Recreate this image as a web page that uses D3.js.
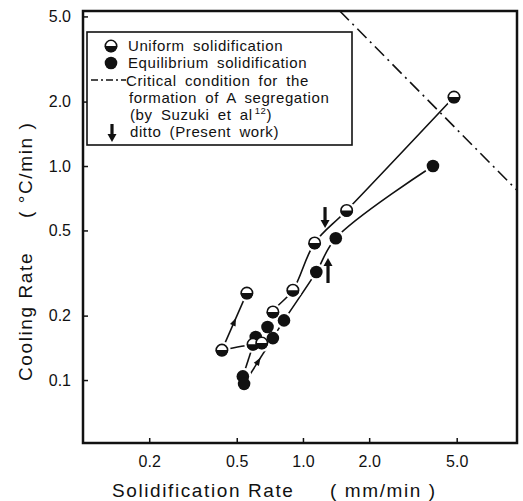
<!DOCTYPE html>
<html>
<head>
<meta charset="utf-8">
<script src="https://cdn.jsdelivr.net/npm/d3@7"></script>
<style>
  body { margin: 0; background: #fff; }
  svg text { font-family: "Liberation Sans", Arial, sans-serif; fill: #111; }
</style>
</head>
<body>
<div id="chart"></div>
<script>
// tick values / labels
var xTicks = [0.2, 0.5, 1, 2, 5];
var xTickLabels = ["0.2", "0.5", "1.0", "2.0", "5.0"];
var yTicks = [0.1, 0.2, 0.5, 1, 2, 5];
var yTickLabels = ["0.1", "0.2", "0.5", "1.0", "2.0", "5.0"];

// uniform solidification points [solidification rate, cooling rate]
var uniformPts = [[4.86, 2.1], [1.58, 0.62], [1.13, 0.437], [0.90, 0.263], [0.73, 0.208],
                  [0.556, 0.255], [0.428, 0.138], [0.593, 0.147], [0.65, 0.149]];
// equilibrium solidification points
var equilibPts = [[3.9, 1.0], [1.41, 0.46], [1.15, 0.32], [0.82, 0.19], [0.69, 0.177],
                  [0.73, 0.157], [0.61, 0.159], [0.533, 0.104], [0.54, 0.096]];

// connecting curves
var uniformCurve = [[0.428, 0.138], [0.593, 0.147], [0.65, 0.149], [0.73, 0.208], [0.90, 0.263],
                    [1.13, 0.437], [1.58, 0.62], [4.86, 2.1]];
var uniformArrow = [[0.428, 0.138], [0.556, 0.255]];
var equilibCurve = [[0.73, 0.157], [0.82, 0.19], [1.15, 0.32], [1.41, 0.46], [3.9, 1.0]];
var equilibArrow = [[0.54, 0.096], [0.73, 0.157]];
var equilibStart = [[0.533, 0.104], [0.61, 0.159]];

// critical condition (Suzuki et al)
var criticalLine = [[1.47, 5.3], [9.4, 0.77]];

// "ditto (present work)" arrows: x, from, to
var dittoArrows = [[1.26, 0.643, 0.513], [1.30, 0.284, 0.372]];

var W = 523, H = 501;
var pLeft = 83, pRight = 517, pTop = 11, pBottom = 443;

var svg = d3.select("#chart").append("svg")
    .attr("width", W).attr("height", H);

var x = d3.scaleLog().domain([0.1, 9.4]).range([pLeft, pRight]);
var y = d3.scaleLog().domain([0.0508, 5.3]).range([pBottom, pTop]);

svg.append("clipPath").attr("id", "clip")
  .append("rect").attr("x", pLeft).attr("y", pTop)
  .attr("width", pRight - pLeft).attr("height", pBottom - pTop);

/*** AXES */
var xAxis = d3.axisBottom(x).tickValues(xTicks)
    .tickFormat(function(d, i) { return xTickLabels[i]; })
    .tickSize(-5).tickPadding(13);
var gx = svg.append("g").attr("transform", "translate(0," + pBottom + ")").call(xAxis);
gx.select(".domain").remove();
gx.selectAll("text").style("font-size", "16px").attr("fill", "#111");
gx.selectAll("line").attr("stroke", "#111").attr("stroke-width", 1.5);

var yAxis = d3.axisLeft(y).tickValues(yTicks)
    .tickFormat(function(d, i) { return yTickLabels[i]; })
    .tickSize(-5).tickPadding(12);
var gy = svg.append("g").attr("transform", "translate(" + pLeft + ",0)").call(yAxis);
gy.select(".domain").remove();
gy.selectAll("text").style("font-size", "16px").attr("fill", "#111");
gy.selectAll("line").attr("stroke", "#111").attr("stroke-width", 1.5);

svg.append("rect")
    .attr("x", pLeft).attr("y", pTop)
    .attr("width", pRight - pLeft).attr("height", pBottom - pTop)
    .attr("fill", "none").attr("stroke", "#111").attr("stroke-width", 2.5);

// axis titles
var titleStyle = function(t) {
    return t.style("font-size", "19px").style("letter-spacing", "1.6px").style("white-space", "pre");
};
titleStyle(svg.append("text").attr("x", 112).attr("y", 497)).text("Solidification Rate");
titleStyle(svg.append("text").attr("x", 330).attr("y", 497)).text("( mm/min )");
titleStyle(svg.append("text").attr("transform", "translate(32,381) rotate(-90)")).text("Cooling Rate");
titleStyle(svg.append("text").attr("transform", "translate(32,218) rotate(-90)")).text("( °C/min )");

/*** PLOT AREA */
var plot = svg.append("g").attr("clip-path", "url(#clip)");

var line = d3.line().x(function(d) { return x(d[0]); }).y(function(d) { return y(d[1]); });
var smooth = d3.line().x(function(d) { return x(d[0]); }).y(function(d) { return y(d[1]); })
    .curve(d3.curveCatmullRom.alpha(0.5));

plot.append("path").attr("d", line(criticalLine))
    .attr("fill", "none").attr("stroke", "#111").attr("stroke-width", 1.6)
    .attr("stroke-dasharray", "13,5,2,5");

[uniformCurve, equilibCurve].forEach(function(c) {
    plot.append("path").attr("d", smooth(c))
        .attr("fill", "none").attr("stroke", "#111").attr("stroke-width", 1.6);
});
[uniformArrow, equilibArrow, equilibStart].forEach(function(c) {
    plot.append("path").attr("d", line(c))
        .attr("fill", "none").attr("stroke", "#111").attr("stroke-width", 1.6);
});

// small arrowheads at the middle of the direction segments
[uniformArrow, equilibArrow].forEach(function(c) {
    var x0 = x(c[0][0]), y0 = y(c[0][1]), x1 = x(c[1][0]), y1 = y(c[1][1]);
    var ang = Math.atan2(y1 - y0, x1 - x0) * 180 / Math.PI;
    plot.append("path")
        .attr("d", "M4,0 L-4,-3 L-4,3 Z")
        .attr("transform", "translate(" + ((x0 + x1) / 2) + "," + ((y0 + y1) / 2) + ") rotate(" + ang + ")")
        .attr("fill", "#111");
});

var r = 6.3;
var allPts = uniformPts.concat(equilibPts);
// white halos so the lines stop short of the markers
plot.selectAll(".halo").data(allPts).enter().append("circle")
    .attr("class", "halo")
    .attr("cx", function(d) { return x(d[0]); })
    .attr("cy", function(d) { return y(d[1]); })
    .attr("r", r + 2.5).attr("fill", "#fff");

function halfMarker(g) {
    g.append("circle").attr("r", r - 0.6).attr("fill", "#fff")
        .attr("stroke", "#111").attr("stroke-width", 1.6);
    g.append("path").attr("d", "M" + (-r) + ",0 A" + r + "," + r + " 0 0,0 " + r + ",0 Z")
        .attr("fill", "#111");
}

plot.selectAll(".eq").data(equilibPts).enter().append("circle")
    .attr("class", "eq")
    .attr("cx", function(d) { return x(d[0]); })
    .attr("cy", function(d) { return y(d[1]); })
    .attr("r", r).attr("fill", "#111");

plot.selectAll(".uni").data(uniformPts).enter().append("g")
    .attr("class", "uni")
    .attr("transform", function(d) { return "translate(" + x(d[0]) + "," + y(d[1]) + ")"; })
    .each(function() { halfMarker(d3.select(this)); });

// ditto arrows
function bigArrow(g, x0, yFrom, yTo) {
    var dir = yTo > yFrom ? 1 : -1;
    g.append("line").attr("x1", x0).attr("x2", x0)
        .attr("y1", yFrom).attr("y2", yTo - dir * 7)
        .attr("stroke", "#111").attr("stroke-width", 3.2);
    g.append("path")
        .attr("d", "M" + (x0 - 4.5) + "," + (yTo - dir * 8) + " L" + (x0 + 4.5) + "," + (yTo - dir * 8) +
             " L" + x0 + "," + yTo + " Z")
        .attr("fill", "#111");
}
dittoArrows.forEach(function(a) {
    bigArrow(plot, x(a[0]), y(a[1]), y(a[2]));
});

/*** LEGEND */
var lg = svg.append("g");
lg.append("rect").attr("x", 87).attr("y", 32).attr("width", 265).attr("height", 113)
    .attr("fill", "#fff").attr("stroke", "#111").attr("stroke-width", 1.6);

var lu = lg.append("g").attr("transform", "translate(111,46)");
halfMarker(lu);
lg.append("circle").attr("cx", 111).attr("cy", 63).attr("r", r).attr("fill", "#111");
lg.append("line").attr("x1", 91).attr("x2", 126).attr("y1", 80).attr("y2", 80)
    .attr("stroke", "#111").attr("stroke-width", 1.4).attr("stroke-dasharray", "7,3,2,3");
bigArrow(lg, 112, 124, 142);

var legendLines = [
    [128, 51, "Uniform solidification"],
    [128, 68, "Equilibrium solidification"],
    [126, 86, "Critical condition for the"],
    [129, 103, "formation of A segregation"],
    [130, 120, "(by Suzuki et al"],
    [130, 137, "ditto (Present work)"]
];
var legendTexts = lg.selectAll(".lt").data(legendLines).enter().append("text")
    .attr("class", "lt")
    .attr("x", function(d) { return d[0]; })
    .attr("y", function(d) { return d[1]; })
    .style("font-size", "15px").style("letter-spacing", "0.6px").style("word-spacing", "3.5px")
    .text(function(d) { return d[2]; });
// superscript reference after "al"
var supLine = legendTexts.filter(function(d) { return d[2].indexOf("Suzuki") >= 0; });
supLine.append("tspan").attr("dx", 2).attr("dy", -6).style("font-size", "9.5px").text("12");
supLine.append("tspan").attr("dy", 6).text(")");
</script>
</body>
</html>
